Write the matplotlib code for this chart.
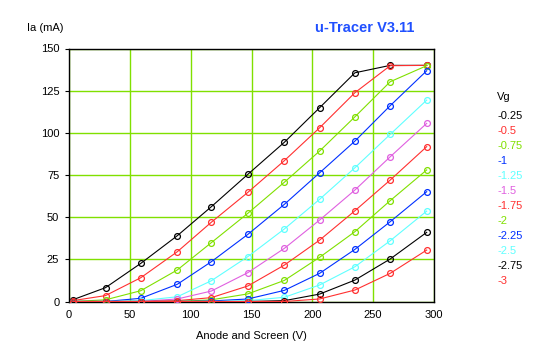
import matplotlib
matplotlib.use("Agg")
import matplotlib.pyplot as plt

plt.rcParams['font.family'] = ['Liberation Sans', 'DejaVu Sans']

# anode voltage sweep (V)
va = [3, 30, 59, 89, 117, 147, 177, 206, 235, 264, 294]

# grid voltages and colours of the traces
vg_labels = ['-0.25', '-0.5', '-0.75', '-1', '-1.25', '-1.5',
             '-1.75', '-2', '-2.25', '-2.5', '-2.75', '-3']
colors = ['#000000', '#ff3030', '#80e000', '#0030ff', '#60ffff', '#e060e0',
          '#ff3030', '#80e000', '#0030ff', '#60ffff', '#000000', '#ff3030']

# anode current (mA), one list per grid voltage
ia_025 = [1.0, 8.2, 22.6, 39.0, 56.2, 75.4, 94.4, 114.9, 135.6, 140, 140]
ia_050 = [0.5, 3.5, 14.1, 29.5, 47.0, 64.7, 83.5, 103.0, 123.8, 139.8, 140]
ia_075 = [0.0, 1.0, 6.4, 18.7, 34.9, 52.3, 70.7, 89.2, 109.5, 130.3, 139.8]
ia_100 = [0.0, 0.0, 1.9, 10.2, 23.6, 39.8, 57.6, 76.3, 95.1, 116.1, 136.8]
ia_125 = [0.0, 0.0, 0.5, 2.8, 12.3, 26.6, 43.0, 60.6, 79.3, 99.1, 119.4]
ia_150 = [0.0, 0.0, 0.0, 1.5, 6.2, 17.1, 31.5, 48.3, 66.1, 85.8, 105.6]
ia_175 = [0.0, 0.0, 0.0, 0.5, 2.3, 9.2, 21.6, 36.4, 53.8, 72.0, 91.8]
ia_200 = [0.0, 0.0, 0.0, 0.0, 1.0, 4.5, 12.5, 26.2, 41.4, 59.8, 78.0]
ia_225 = [0.0, 0.0, 0.0, 0.0, 0.3, 1.5, 6.6, 16.7, 30.9, 47.3, 65.1]
ia_250 = [0.0, 0.0, 0.0, 0.0, 0.0, 0.5, 2.5, 9.8, 20.6, 36.0, 53.6]
ia_275 = [0.0, 0.0, 0.0, 0.0, 0.0, 0.0, 0.5, 4.4, 12.7, 25.2, 41.0]
ia_300 = [0.0, 0.0, 0.0, 0.0, 0.0, 0.0, 0.0, 1.5, 6.8, 16.7, 30.5]
curves = [ia_025, ia_050, ia_075, ia_100, ia_125, ia_150,
          ia_175, ia_200, ia_225, ia_250, ia_275, ia_300]

fig = plt.figure(figsize=(5.39, 3.5), dpi=100)
ax = fig.add_axes([69/539, 48.5/350, 365/539, 253/350])

for ia, col in zip(curves, colors):
    ax.plot(va, ia, color=col, lw=0.8, marker='o', ms=4.2,
            mfc='none', mec=col, mew=0.9, zorder=3)

ax.set_xlim(0, 300)
ax.set_ylim(0, 150)
ax.set_xticks(range(0, 301, 50))
ax.set_yticks(range(0, 151, 25))
ax.grid(True, color='#80e000', lw=1.0, zorder=1)
ax.tick_params(axis='both', labelsize=8, length=3, width=0.8, direction='out', pad=4)
ax.tick_params(axis='x', length=0, pad=6)
for s in ax.spines.values():
    s.set_color('black')
    s.set_linewidth(1.0)

ax.set_xlabel('Anode and Screen (V)', fontsize=8, labelpad=8)
fig.text(27/539, 1 - 28/350, 'Ia (mA)', fontsize=8, va='center', ha='left')
fig.text(365/539, 1 - 28/350, 'u-Tracer V3.11', fontsize=10.5, fontweight='bold',
         color='#2050ff', va='center', ha='center')

# legend with coloured labels
fig.text(497/539, 1 - 97/350, 'Vg', fontsize=8, va='center', ha='left')
for i, (lab, col) in enumerate(zip(vg_labels, colors)):
    fig.text(497/539, 1 - (116 + 15 * i)/350, lab, fontsize=8, color=col,
             va='center', ha='left')

fig.savefig('out.png', dpi=100)
